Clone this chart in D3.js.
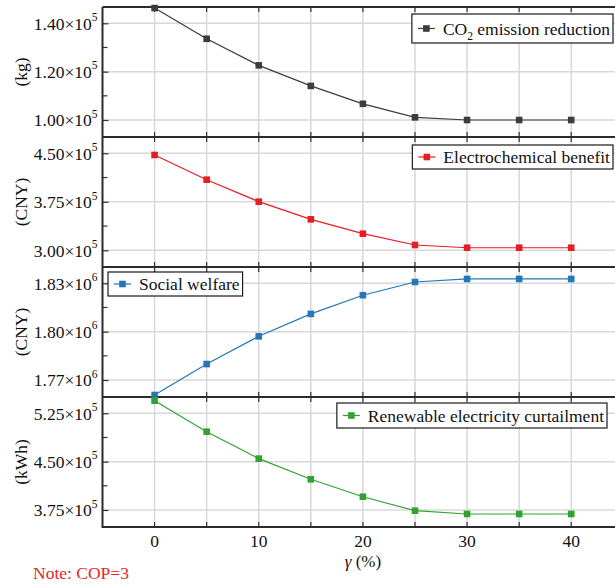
<!DOCTYPE html>
<html>
<head>
<meta charset="utf-8">
<script src="https://cdn.jsdelivr.net/npm/d3@7"></script>
<style>
  body { margin: 0; background: #fff; }
  svg { display: block; font-family: "Liberation Serif", "Times New Roman", "DejaVu Serif", serif; }
</style>
</head>
<body>
<script>
// data
var gamma = [0, 5, 10, 15, 20, 25, 30, 35, 40];
var co2Reduction = [1.463e5, 1.336e5, 1.226e5, 1.141e5, 1.067e5, 1.011e5, 1.000e5, 1.000e5, 1.000e5];
var echemBenefit = [4.474e5, 4.092e5, 3.752e5, 3.479e5, 3.257e5, 3.082e5, 3.040e5, 3.040e5, 3.040e5];
var socialWelfare = [1.7607e6, 1.7799e6, 1.7971e6, 1.8110e6, 1.8226e6, 1.8308e6, 1.8327e6, 1.8327e6, 1.8327e6];
var curtailment = [5.446e5, 4.965e5, 4.547e5, 4.226e5, 3.956e5, 3.739e5, 3.688e5, 3.688e5, 3.688e5];

var xTickLabels = [0, 10, 20, 30, 40];
var xGridTicks = [0, 5, 10, 15, 20, 25, 30, 35, 40];
var co2Ticks = [1.00e5, 1.20e5, 1.40e5];
var benefitTicks = [3.00e5, 3.75e5, 4.50e5];
var welfareTicks = [1.77e6, 1.80e6, 1.83e6];
var curtailTicks = [3.75e5, 4.50e5, 5.25e5];
var units = ["(kg)", "(CNY)", "(CNY)", "(kWh)"];
var seriesNames = ["CO2 emission reduction", "Electrochemical benefit", "Social welfare", "Renewable electricity curtailment"];

var svgwidth = 615, svgheight = 585;
var left = 102.5, panelTop = 7, panelH = 130;
var serif = "Liberation Serif, Times New Roman, DejaVu Serif, serif";

var panels = [
  { values: co2Reduction, ticks: co2Ticks, exp: 5, domain: [0.9297e5, 1.4674e5], color: "#3c3c3c", legend: { right: 613, y: 14, h: 29 } },
  { values: echemBenefit, ticks: benefitTicks, exp: 5, domain: [2.742e5, 4.752e5], color: "#e31e24", legend: { right: 613, y: 145, h: 24 } },
  { values: socialWelfare, ticks: welfareTicks, exp: 6, domain: [1.75945e6, 1.84011e6], color: "#2477b8", legend: { left: 108, y: 272, h: 24 } },
  { values: curtailment, ticks: curtailTicks, exp: 5, domain: [3.486e5, 5.503e5], color: "#31a232", legend: { right: 607, y: 403, h: 25 } }
];

var svg = d3.select("body").append("svg")
    .attr("width", svgwidth)
    .attr("height", svgheight)
    .attr("font-family", serif);

var x = d3.scaleLinear().domain([-5, 45]).range([left, 623.3]);

var gridLayer = svg.append("g");
var axisLayer = svg.append("g");
var dataLayer = svg.append("g");

panels.forEach(function (p, i) {
  var top = panelTop + i * panelH, bottom = top + panelH;
  var y = d3.scaleLinear().domain(p.domain).range([bottom, top]);

  // grid
  gridLayer.selectAll(null).data(xGridTicks).enter().append("line")
      .attr("x1", function (d) { return x(d); }).attr("x2", function (d) { return x(d); })
      .attr("y1", top).attr("y2", bottom)
      .attr("stroke", "#d8d8d8").attr("stroke-width", 1.5);
  gridLayer.selectAll(null).data(p.ticks).enter().append("line")
      .attr("x1", left).attr("x2", svgwidth)
      .attr("y1", function (d) { return y(d); }).attr("y2", function (d) { return y(d); })
      .attr("stroke", "#d8d8d8").attr("stroke-width", 1.5);

  // y axis, inward ticks, minor ticks halfway
  var step = p.ticks[1] - p.ticks[0];
  var minor = p.ticks.map(function (d) { return d + step / 2; })
      .concat([p.ticks[0] - step / 2])
      .filter(function (d) { return d > p.domain[0] && d < p.domain[1]; });

  var yAxis = axisLayer.append("g")
      .attr("transform", "translate(" + left + ",0)")
      .call(d3.axisLeft(y).tickValues(p.ticks).tickSize(-6).tickPadding(6).tickFormat(function (d) {
        return (d / Math.pow(10, p.exp)).toFixed(2);
      }));
  yAxis.attr("font-family", serif);
  yAxis.select(".domain").remove();
  yAxis.selectAll(".tick line").attr("stroke", "#333").attr("stroke-width", 1.2);
  yAxis.selectAll(".tick text")
      .attr("font-size", 17.5).attr("fill", "#111")
      .attr("x", -5).attr("dy", "0.34em")
      .each(function (d) {
        var t = d3.select(this);
        var m = t.text();
        t.text(null);
        t.append("tspan").text(m + "\u00d710");
        t.append("tspan").attr("font-size", 11.5).attr("dy", "-0.75em").text(p.exp);
      });

  axisLayer.selectAll(null).data(minor).enter().append("line")
      .attr("x1", left).attr("x2", left + 5)
      .attr("y1", function (d) { return y(d); }).attr("y2", function (d) { return y(d); })
      .attr("stroke", "#333").attr("stroke-width", 1.2);

  // x ticks, inward at top and bottom of every panel
  axisLayer.selectAll(null).data(xGridTicks).enter().append("line")
      .attr("x1", function (d) { return x(d); }).attr("x2", function (d) { return x(d); })
      .attr("y1", bottom).attr("y2", bottom - 5)
      .attr("stroke", "#333").attr("stroke-width", 1.2);
  axisLayer.selectAll(null).data(xGridTicks).enter().append("line")
      .attr("x1", function (d) { return x(d); }).attr("x2", function (d) { return x(d); })
      .attr("y1", top).attr("y2", top + 5)
      .attr("stroke", "#333").attr("stroke-width", 1.2);

  // unit label
  axisLayer.append("text")
      .attr("transform", "translate(27," + (top + panelH / 2) + ") rotate(-90)")
      .attr("text-anchor", "middle")
      .attr("font-size", 17.5).attr("fill", "#111")
      .text(units[i]);

  // series
  var line = d3.line()
      .x(function (d, k) { return x(gamma[k]); })
      .y(function (d) { return y(d); });
  dataLayer.append("path")
      .datum(p.values)
      .attr("d", line)
      .attr("fill", "none").attr("stroke", p.color).attr("stroke-width", 1.2);
  dataLayer.selectAll(null).data(p.values).enter().append("rect")
      .attr("x", function (d, k) { return x(gamma[k]) - 3.3; })
      .attr("y", function (d) { return y(d) - 3.3; })
      .attr("width", 6.6).attr("height", 6.6)
      .attr("fill", p.color);
});

// panel frames
d3.range(5).forEach(function (k) {
  axisLayer.append("line")
      .attr("x1", left).attr("x2", svgwidth)
      .attr("y1", panelTop + k * panelH).attr("y2", panelTop + k * panelH)
      .attr("stroke", "#2b2b2b").attr("stroke-width", 2);
});
axisLayer.append("line")
    .attr("x1", left).attr("x2", left)
    .attr("y1", panelTop).attr("y2", panelTop + 4 * panelH + 1)
    .attr("stroke", "#2b2b2b").attr("stroke-width", 2);

// legends
var legendLayer = svg.append("g");
panels.forEach(function (p, i) {
  var L = p.legend;
  var g = legendLayer.append("g");
  var box = g.append("rect").attr("fill", "#fff").attr("stroke", "#1a1a1a").attr("stroke-width", 1.2);
  var txt = g.append("text").attr("font-size", 17.5).attr("fill", "#111")
      .attr("y", L.y + L.h / 2 + 6);
  if (i === 0) {
    txt.append("tspan").text("CO");
    txt.append("tspan").attr("font-size", 11.5).attr("dy", 5).text("2");
    txt.append("tspan").attr("dy", -5).text(" emission reduction");
  } else {
    txt.text(seriesNames[i]);
  }
  var tw = txt.node().getComputedTextLength();
  var w = tw + 34;
  var bx = L.left !== undefined ? L.left : L.right - w;
  box.attr("x", bx).attr("y", L.y).attr("width", w).attr("height", L.h);
  txt.attr("x", bx + 31);
  var cy = L.y + L.h / 2;
  g.append("line").attr("x1", bx + 6).attr("x2", bx + 23).attr("y1", cy).attr("y2", cy)
      .attr("stroke", p.color).attr("stroke-width", 1.2);
  g.append("rect").attr("x", bx + 14.5 - 3.3).attr("y", cy - 3.3).attr("width", 6.6).attr("height", 6.6)
      .attr("fill", p.color);
});

// bottom x tick labels
svg.selectAll(null).data(xTickLabels).enter().append("text")
    .attr("x", function (d) { return x(d); })
    .attr("y", 547)
    .attr("text-anchor", "middle")
    .attr("font-size", 17.5).attr("fill", "#111")
    .text(function (d) { return d; });

var xl = svg.append("text")
    .attr("x", x(20)).attr("y", 566.5)
    .attr("text-anchor", "middle")
    .attr("font-size", 17).attr("fill", "#111");
xl.append("tspan").attr("font-style", "italic").text("\u03b3");
xl.append("tspan").text(" (%)");

svg.append("text")
    .attr("x", 33).attr("y", 579)
    .attr("font-size", 17.5).attr("fill", "#e8262b")
    .text("Note: COP=3");
</script>
</body>
</html>
